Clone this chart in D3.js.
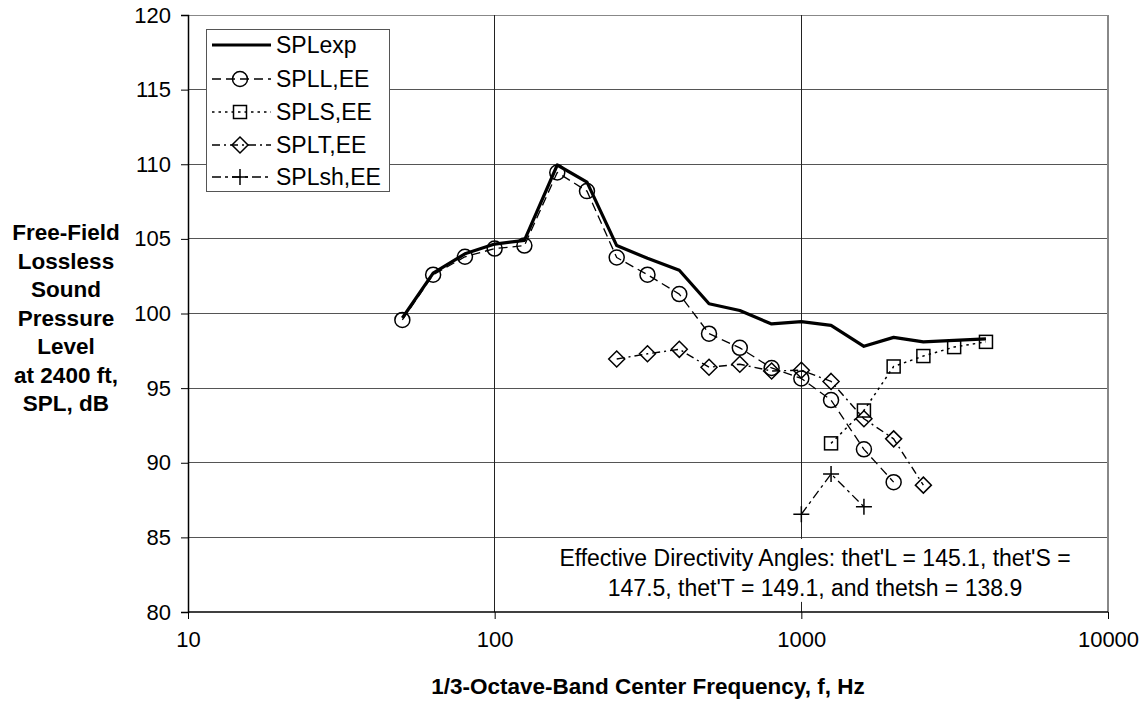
<!DOCTYPE html>
<html><head><meta charset="utf-8">
<script src="https://cdn.jsdelivr.net/npm/d3@7"></script>
<style>
html,body{margin:0;padding:0;background:#fff;}
svg{display:block;font-family:"Liberation Sans",Arial,sans-serif;}
</style></head>
<body>
<svg id="chart" width="1146" height="702"></svg>
<script>
// ---- data ----
const freqs = [50,63,80,100,125,160,200,250,315,400,500,630,800,1000,1250,1600,2000,2500,3150,4000];
const splExp = [99.7,102.7,104.0,104.65,104.9,109.95,108.8,104.55,103.7,102.9,100.65,100.2,99.3,99.45,99.2,97.8,98.4,98.1,98.2,98.3];
const freqsL = [50,63,80,100,125,160,200,250,315,400,500,630,800,1000,1250,1600,2000];
const splL = [99.57,102.6,103.8,104.35,104.55,109.45,108.2,103.75,102.6,101.3,98.65,97.7,96.35,95.65,94.2,90.9,88.7];
const freqsS = [1250,1600,2000,2500,3150,4000];
const splS = [91.3,93.5,96.45,97.15,97.75,98.1];
const freqsT = [250,315,400,500,630,800,1000,1250,1600,2000,2500];
const splT = [96.95,97.3,97.6,96.4,96.6,96.15,96.2,95.45,92.95,91.6,88.5];
const freqsSh = [1000,1250,1600];
const splSh = [86.55,89.25,87.05];
const xTicks = [10,100,1000,10000];
const yTicks = [80,85,90,95,100,105,110,115,120];
const seriesNames = ["SPLexp","SPLL,EE","SPLS,EE","SPLT,EE","SPLsh,EE"];
const yTitleLines = ["Free-Field","Lossless","Sound","Pressure","Level","at 2400 ft,","SPL, dB"];
const xTitle = "1/3-Octave-Band Center Frequency, f, Hz";
const noteLines = ["Effective Directivity Angles: thet'L = 145.1, thet'S =","147.5, thet'T = 149.1, and thetsh = 138.9"];

// ---- layout ----
const L = 188, R = 1108, T = 15, B = 612;
const FS = 22, FL = 23;
const svg = d3.select("#chart");
const x = d3.scaleLog().domain([10,10000]).range([L,R]);
const y = d3.scaleLinear().domain([80,120]).range([B,T]);

// grid
svg.append("g").selectAll("line").data(yTicks.filter(v=>v>80)).join("line")
  .attr("x1",L).attr("x2",R).attr("y1",d=>y(d)).attr("y2",d=>y(d))
  .attr("stroke",d=>d===120?"#888":"#555").attr("stroke-width",1).attr("shape-rendering","crispEdges");
svg.append("g").selectAll("line").data([100,1000]).join("line")
  .attr("x1",d=>x(d)).attr("x2",d=>x(d)).attr("y1",T).attr("y2",B)
  .attr("stroke","#222").attr("stroke-width",1).attr("shape-rendering","crispEdges");
svg.append("line").attr("x1",R).attr("x2",R).attr("y1",T).attr("y2",B)
  .attr("stroke","#888").attr("stroke-width",1.5).attr("shape-rendering","crispEdges");

// note box (white background covering grid)
const noteCx = 815;
svg.append("rect").attr("x",548).attr("y",y(85)+1.5).attr("width",R-549).attr("height",63).attr("fill","#fff");
svg.append("g").selectAll("text").data(noteLines).join("text")
  .attr("x",noteCx).attr("y",(d,i)=>566+i*29.5).attr("text-anchor","middle")
  .attr("font-size",FL).attr("fill","#000").text(d=>d);

// axes
const yAxis = d3.axisLeft(y).tickValues(yTicks).tickSize(7).tickPadding(10).tickFormat(d3.format("d"));
const gy = svg.append("g").attr("transform",`translate(${L},0)`).call(yAxis);
const xAxis = d3.axisBottom(x).tickValues(xTicks).tickSize(7).tickPadding(12).tickFormat(d3.format("d"));
const gx = svg.append("g").attr("transform",`translate(0,${B})`).call(xAxis);
[gx,gy].forEach(g=>{
  g.select(".domain").attr("stroke","#000").attr("stroke-width",1.5);
  g.selectAll(".tick line").attr("stroke","#000");
  g.selectAll(".tick text").attr("font-size",FS).attr("font-family","Liberation Sans, Arial, sans-serif").attr("fill","#000");
});
gx.select(".domain").attr("d",`M${L},0H${R}`);

// titles
svg.append("text").attr("x",648).attr("y",694).attr("text-anchor","middle")
  .attr("font-weight","bold").attr("font-size",22.5).text(xTitle);
svg.append("g").selectAll("text").data(yTitleLines).join("text")
  .attr("x",66).attr("y",(d,i)=>240+i*28.5).attr("text-anchor","middle")
  .attr("font-weight","bold").attr("font-size",22.5).text(d=>d);

// series
const line = d3.line().x(d=>x(d[0])).y(d=>y(d[1]));
const zip = (a,b)=>a.map((f,i)=>[f,b[i]]);
const styles = [
  {data:zip(freqs,splExp), dash:null, w:3.2, marker:null},
  {data:zip(freqsL,splL), dash:"9,5", w:1.3, marker:"circle"},
  {data:zip(freqsS,splS), dash:"2.5,4", w:1.5, marker:"square"},
  {data:zip(freqsT,splT), dash:"8,4,2,4", w:1.4, marker:"diamond"},
  {data:zip(freqsSh,splSh), dash:"9,4,3,4", w:1.3, marker:"plus"}
];
function drawMarker(g, type, cx, cy){
  if(type==="circle") g.append("circle").attr("cx",cx).attr("cy",cy).attr("r",7.5).attr("fill","none").attr("stroke","#000").attr("stroke-width",1.5);
  else if(type==="square") g.append("rect").attr("x",cx-6.5).attr("y",cy-6.5).attr("width",13).attr("height",13).attr("fill","none").attr("stroke","#000").attr("stroke-width",1.5);
  else if(type==="diamond") g.append("path").attr("d",`M${cx},${cy-8}L${cx+8},${cy}L${cx},${cy+8}L${cx-8},${cy}Z`).attr("fill","none").attr("stroke","#000").attr("stroke-width",1.5);
  else if(type==="plus") g.append("path").attr("d",`M${cx-8},${cy}H${cx+8}M${cx},${cy-8}V${cy+8}`).attr("fill","none").attr("stroke","#000").attr("stroke-width",1.5);
}
[1,2,3,4,0].forEach(i=>{
  const s = styles[i];
  const g = svg.append("g");
  g.append("path").attr("d",line(s.data)).attr("fill","none").attr("stroke","#000")
    .attr("stroke-width",s.w).attr("stroke-dasharray",s.dash).attr("stroke-linejoin","round");
  if(s.marker) s.data.forEach(d=>drawMarker(g,s.marker,x(d[0]),y(d[1])));
});

// legend
const lg = svg.append("g");
lg.append("rect").attr("x",206.5).attr("y",29.5).attr("width",183).attr("height",162)
  .attr("fill","#fff").attr("stroke","#555").attr("stroke-width",1);
const rowY = [45,79,112,145,177];
styles.forEach((s,i)=>{
  const yy = rowY[i];
  lg.append("line").attr("x1",212).attr("x2",271).attr("y1",yy).attr("y2",yy)
    .attr("stroke","#000").attr("stroke-width",s.w).attr("stroke-dasharray",s.dash);
  if(s.marker) drawMarker(lg,s.marker,240,yy);
  lg.append("text").attr("x",276).attr("y",yy+8).attr("font-size",FL).attr("fill","#000").text(seriesNames[i]);
});
</script>
</body></html>
